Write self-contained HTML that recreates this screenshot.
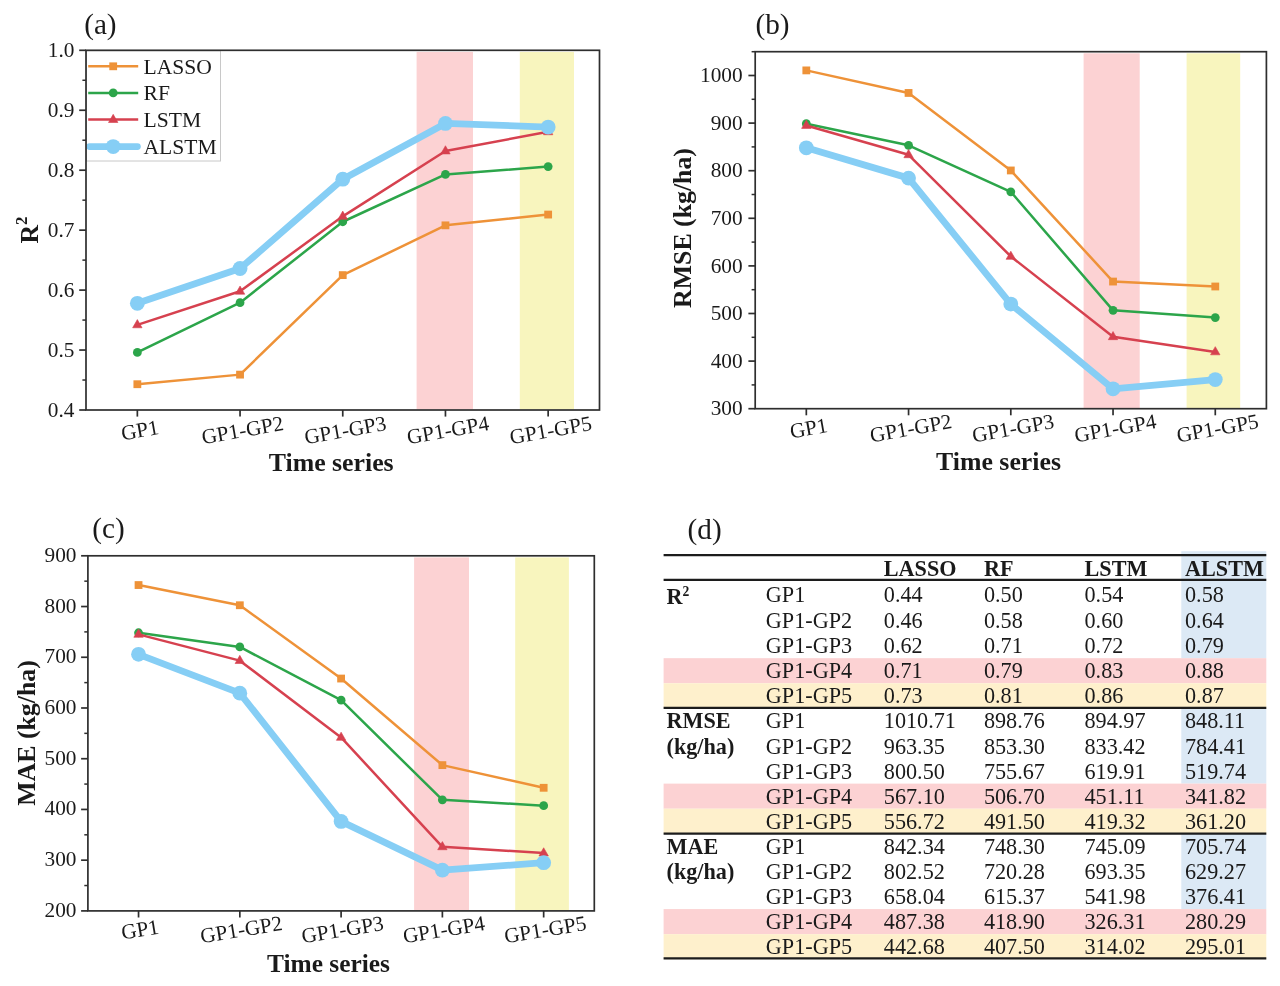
<!DOCTYPE html>
<html lang="en"><head><meta charset="utf-8"><title>Model comparison: LASSO, RF, LSTM, ALSTM</title>
<style>
html,body{margin:0;padding:0;background:#fff;}
body{width:1280px;height:986px;overflow:hidden;}
svg{display:block;}
text{font-family:"Liberation Serif","Times New Roman",serif;fill:#1a1a1a;}
.tk{font-size:21.3px;}
.lg{font-size:21.6px;}
.ttl{font-size:25.8px;font-weight:bold;}
.pl{font-size:29.2px;}
.td{font-size:22.2px;}
.th{font-size:22.2px;font-weight:bold;}
</style></head><body>
<svg width="1280" height="986" viewBox="0 0 1280 986">
<rect x="0" y="0" width="1280" height="986" fill="#ffffff"/>
<g id="panel-a">
<text x="84.2" y="33.8" class="pl">(a)</text>
<rect x="416.6" y="51.9" width="56.4" height="357.5" fill="#FCD2D3"/>
<rect x="519.8" y="51.9" width="54.2" height="357.5" fill="#F8F5BE"/>
<polyline points="137.35,384.22 240.05,374.63 342.75,275.11 445.45,225.35 548.15,214.56" fill="none" stroke="#EE9238" stroke-width="2.5" stroke-linejoin="round" stroke-linecap="round"/>
<rect x="133.45" y="380.32" width="7.8" height="7.8" fill="#EE9238"/>
<rect x="236.15" y="370.73" width="7.8" height="7.8" fill="#EE9238"/>
<rect x="338.85" y="271.21" width="7.8" height="7.8" fill="#EE9238"/>
<rect x="441.55" y="221.45" width="7.8" height="7.8" fill="#EE9238"/>
<rect x="544.25" y="210.66" width="7.8" height="7.8" fill="#EE9238"/>
<polyline points="137.35,352.45 240.05,302.69 342.75,221.76 445.45,174.4 548.15,166.6" fill="none" stroke="#2CA54A" stroke-width="2.5" stroke-linejoin="round" stroke-linecap="round"/>
<circle cx="137.35" cy="352.45" r="4.4" fill="#2CA54A"/>
<circle cx="240.05" cy="302.69" r="4.4" fill="#2CA54A"/>
<circle cx="342.75" cy="221.76" r="4.4" fill="#2CA54A"/>
<circle cx="445.45" cy="174.4" r="4.4" fill="#2CA54A"/>
<circle cx="548.15" cy="166.6" r="4.4" fill="#2CA54A"/>
<polyline points="137.35,324.87 240.05,291.3 342.75,216.36 445.45,151.02 548.15,131.83" fill="none" stroke="#D6414F" stroke-width="2.5" stroke-linejoin="round" stroke-linecap="round"/>
<polygon points="137.35,319.6 142.05,327.77 132.65,327.77" fill="#D6414F" stroke="#D6414F" stroke-width="0.6" stroke-linejoin="round"/>
<polygon points="240.05,286.02 244.75,294.2 235.35,294.2" fill="#D6414F" stroke="#D6414F" stroke-width="0.6" stroke-linejoin="round"/>
<polygon points="342.75,211.09 347.45,219.26 338.05,219.26" fill="#D6414F" stroke="#D6414F" stroke-width="0.6" stroke-linejoin="round"/>
<polygon points="445.45,145.74 450.15,153.92 440.75,153.92" fill="#D6414F" stroke="#D6414F" stroke-width="0.6" stroke-linejoin="round"/>
<polygon points="548.15,126.56 552.85,134.74 543.45,134.74" fill="#D6414F" stroke="#D6414F" stroke-width="0.6" stroke-linejoin="round"/>
<polyline points="137.35,303.29 240.05,268.52 342.75,179.19 445.45,123.44 548.15,127.04" fill="none" stroke="#86CEF5" stroke-width="6.8" stroke-linejoin="round" stroke-linecap="round"/>
<circle cx="137.35" cy="303.29" r="7.4" fill="#86CEF5"/>
<circle cx="240.05" cy="268.52" r="7.4" fill="#86CEF5"/>
<circle cx="342.75" cy="179.19" r="7.4" fill="#86CEF5"/>
<circle cx="445.45" cy="123.44" r="7.4" fill="#86CEF5"/>
<circle cx="548.15" cy="127.04" r="7.4" fill="#86CEF5"/>
<rect x="86.5" y="50.8" width="134" height="110.2" fill="#fff" stroke="#c8c8c8" stroke-width="1"/>
<line x1="88.2" y1="66.3" x2="138.2" y2="66.3" stroke="#EE9238" stroke-width="2.5" stroke-linecap="butt"/>
<rect x="109.3" y="62.4" width="7.8" height="7.8" fill="#EE9238"/>
<text x="143.5" y="73.5" class="lg">LASSO</text>
<line x1="88.2" y1="92.9" x2="138.2" y2="92.9" stroke="#2CA54A" stroke-width="2.5" stroke-linecap="butt"/>
<circle cx="113.2" cy="92.9" r="4.4" fill="#2CA54A"/>
<text x="143.5" y="100.1" class="lg">RF</text>
<line x1="88.2" y1="119.6" x2="138.2" y2="119.6" stroke="#D6414F" stroke-width="2.5" stroke-linecap="butt"/>
<polygon points="113.2,114.33 117.9,122.5 108.5,122.5" fill="#D6414F" stroke="#D6414F" stroke-width="0.6" stroke-linejoin="round"/>
<text x="143.5" y="126.8" class="lg">LSTM</text>
<line x1="89.6" y1="146.6" x2="137.4" y2="146.6" stroke="#86CEF5" stroke-width="6.8" stroke-linecap="round"/>
<circle cx="113.2" cy="146.6" r="7.4" fill="#86CEF5"/>
<text x="143.5" y="153.8" class="lg">ALSTM</text>
<rect x="86" y="50.3" width="513.5" height="359.7" fill="none" stroke="#2e2e2e" stroke-width="1.7"/>
<line x1="79.2" y1="410" x2="86" y2="410" stroke="#2e2e2e" stroke-width="1.7"/>
<text x="74.4" y="416.7" text-anchor="end" class="tk">0.4</text>
<line x1="82.4" y1="380.03" x2="86" y2="380.03" stroke="#2e2e2e" stroke-width="1.5"/>
<line x1="79.2" y1="350.05" x2="86" y2="350.05" stroke="#2e2e2e" stroke-width="1.7"/>
<text x="74.4" y="356.75" text-anchor="end" class="tk">0.5</text>
<line x1="82.4" y1="320.07" x2="86" y2="320.07" stroke="#2e2e2e" stroke-width="1.5"/>
<line x1="79.2" y1="290.1" x2="86" y2="290.1" stroke="#2e2e2e" stroke-width="1.7"/>
<text x="74.4" y="296.8" text-anchor="end" class="tk">0.6</text>
<line x1="82.4" y1="260.12" x2="86" y2="260.12" stroke="#2e2e2e" stroke-width="1.5"/>
<line x1="79.2" y1="230.15" x2="86" y2="230.15" stroke="#2e2e2e" stroke-width="1.7"/>
<text x="74.4" y="236.85" text-anchor="end" class="tk">0.7</text>
<line x1="82.4" y1="200.17" x2="86" y2="200.17" stroke="#2e2e2e" stroke-width="1.5"/>
<line x1="79.2" y1="170.2" x2="86" y2="170.2" stroke="#2e2e2e" stroke-width="1.7"/>
<text x="74.4" y="176.9" text-anchor="end" class="tk">0.8</text>
<line x1="82.4" y1="140.22" x2="86" y2="140.22" stroke="#2e2e2e" stroke-width="1.5"/>
<line x1="79.2" y1="110.25" x2="86" y2="110.25" stroke="#2e2e2e" stroke-width="1.7"/>
<text x="74.4" y="116.95" text-anchor="end" class="tk">0.9</text>
<line x1="82.4" y1="80.27" x2="86" y2="80.27" stroke="#2e2e2e" stroke-width="1.5"/>
<line x1="79.2" y1="50.3" x2="86" y2="50.3" stroke="#2e2e2e" stroke-width="1.7"/>
<text x="74.4" y="57" text-anchor="end" class="tk">1.0</text>
<line x1="137.35" y1="410" x2="137.35" y2="416.6" stroke="#2e2e2e" stroke-width="1.7"/>
<text transform="translate(139.85,430.4) rotate(-10)" x="0" y="6.8" text-anchor="middle" class="tk">GP1</text>
<line x1="240.05" y1="410" x2="240.05" y2="416.6" stroke="#2e2e2e" stroke-width="1.7"/>
<text transform="translate(242.55,430.4) rotate(-10)" x="0" y="6.8" text-anchor="middle" class="tk">GP1-GP2</text>
<line x1="342.75" y1="410" x2="342.75" y2="416.6" stroke="#2e2e2e" stroke-width="1.7"/>
<text transform="translate(345.25,430.4) rotate(-10)" x="0" y="6.8" text-anchor="middle" class="tk">GP1-GP3</text>
<line x1="445.45" y1="410" x2="445.45" y2="416.6" stroke="#2e2e2e" stroke-width="1.7"/>
<text transform="translate(447.95,430.4) rotate(-10)" x="0" y="6.8" text-anchor="middle" class="tk">GP1-GP4</text>
<line x1="548.15" y1="410" x2="548.15" y2="416.6" stroke="#2e2e2e" stroke-width="1.7"/>
<text transform="translate(550.65,430.4) rotate(-10)" x="0" y="6.8" text-anchor="middle" class="tk">GP1-GP5</text>
<text x="331.2" y="471.2" text-anchor="middle" class="ttl">Time series</text>
<text transform="translate(37.5,230.1) rotate(-90)" x="0" y="0" text-anchor="middle" class="ttl">R<tspan dy="-11" font-size="16.8px">2</tspan></text>
</g>
<g id="panel-b">
<text x="755.5" y="33.8" class="pl">(b)</text>
<rect x="1083.6" y="53.3" width="56.1" height="354.8" fill="#FCD2D3"/>
<rect x="1186.6" y="53.3" width="53.6" height="354.8" fill="#F8F5BE"/>
<polyline points="806.32,70.4 908.56,92.95 1010.8,170.46 1113.04,281.56 1215.28,286.5" fill="none" stroke="#EE9238" stroke-width="2.5" stroke-linejoin="round" stroke-linecap="round"/>
<rect x="802.42" y="66.5" width="7.8" height="7.8" fill="#EE9238"/>
<rect x="904.66" y="89.05" width="7.8" height="7.8" fill="#EE9238"/>
<rect x="1006.9" y="166.56" width="7.8" height="7.8" fill="#EE9238"/>
<rect x="1109.14" y="277.66" width="7.8" height="7.8" fill="#EE9238"/>
<rect x="1211.38" y="282.6" width="7.8" height="7.8" fill="#EE9238"/>
<polyline points="806.32,123.69 908.56,145.33 1010.8,191.8 1113.04,310.31 1215.28,317.55" fill="none" stroke="#2CA54A" stroke-width="2.5" stroke-linejoin="round" stroke-linecap="round"/>
<circle cx="806.32" cy="123.69" r="4.4" fill="#2CA54A"/>
<circle cx="908.56" cy="145.33" r="4.4" fill="#2CA54A"/>
<circle cx="1010.8" cy="191.8" r="4.4" fill="#2CA54A"/>
<circle cx="1113.04" cy="310.31" r="4.4" fill="#2CA54A"/>
<circle cx="1215.28" cy="317.55" r="4.4" fill="#2CA54A"/>
<polyline points="806.32,125.49 908.56,154.79 1010.8,256.42 1113.04,336.77 1215.28,351.9" fill="none" stroke="#D6414F" stroke-width="2.5" stroke-linejoin="round" stroke-linecap="round"/>
<polygon points="806.32,120.22 811.02,128.4 801.62,128.4" fill="#D6414F" stroke="#D6414F" stroke-width="0.6" stroke-linejoin="round"/>
<polygon points="908.56,149.52 913.26,157.7 903.86,157.7" fill="#D6414F" stroke="#D6414F" stroke-width="0.6" stroke-linejoin="round"/>
<polygon points="1010.8,251.15 1015.5,259.33 1006.1,259.33" fill="#D6414F" stroke="#D6414F" stroke-width="0.6" stroke-linejoin="round"/>
<polygon points="1113.04,331.5 1117.74,339.67 1108.34,339.67" fill="#D6414F" stroke="#D6414F" stroke-width="0.6" stroke-linejoin="round"/>
<polygon points="1215.28,346.63 1219.98,354.81 1210.58,354.81" fill="#D6414F" stroke="#D6414F" stroke-width="0.6" stroke-linejoin="round"/>
<polyline points="806.32,147.8 908.56,178.12 1010.8,304.1 1113.04,388.79 1215.28,379.57" fill="none" stroke="#86CEF5" stroke-width="6.8" stroke-linejoin="round" stroke-linecap="round"/>
<circle cx="806.32" cy="147.8" r="7.4" fill="#86CEF5"/>
<circle cx="908.56" cy="178.12" r="7.4" fill="#86CEF5"/>
<circle cx="1010.8" cy="304.1" r="7.4" fill="#86CEF5"/>
<circle cx="1113.04" cy="388.79" r="7.4" fill="#86CEF5"/>
<circle cx="1215.28" cy="379.57" r="7.4" fill="#86CEF5"/>
<rect x="755.2" y="51.7" width="511.2" height="357" fill="none" stroke="#2e2e2e" stroke-width="1.7"/>
<line x1="748.4" y1="408.7" x2="755.2" y2="408.7" stroke="#2e2e2e" stroke-width="1.7"/>
<text x="742.6" y="415.4" text-anchor="end" class="tk">300</text>
<line x1="751.6" y1="384.9" x2="755.2" y2="384.9" stroke="#2e2e2e" stroke-width="1.5"/>
<line x1="748.4" y1="361.1" x2="755.2" y2="361.1" stroke="#2e2e2e" stroke-width="1.7"/>
<text x="742.6" y="367.8" text-anchor="end" class="tk">400</text>
<line x1="751.6" y1="337.3" x2="755.2" y2="337.3" stroke="#2e2e2e" stroke-width="1.5"/>
<line x1="748.4" y1="313.5" x2="755.2" y2="313.5" stroke="#2e2e2e" stroke-width="1.7"/>
<text x="742.6" y="320.2" text-anchor="end" class="tk">500</text>
<line x1="751.6" y1="289.7" x2="755.2" y2="289.7" stroke="#2e2e2e" stroke-width="1.5"/>
<line x1="748.4" y1="265.9" x2="755.2" y2="265.9" stroke="#2e2e2e" stroke-width="1.7"/>
<text x="742.6" y="272.6" text-anchor="end" class="tk">600</text>
<line x1="751.6" y1="242.1" x2="755.2" y2="242.1" stroke="#2e2e2e" stroke-width="1.5"/>
<line x1="748.4" y1="218.3" x2="755.2" y2="218.3" stroke="#2e2e2e" stroke-width="1.7"/>
<text x="742.6" y="225" text-anchor="end" class="tk">700</text>
<line x1="751.6" y1="194.5" x2="755.2" y2="194.5" stroke="#2e2e2e" stroke-width="1.5"/>
<line x1="748.4" y1="170.7" x2="755.2" y2="170.7" stroke="#2e2e2e" stroke-width="1.7"/>
<text x="742.6" y="177.4" text-anchor="end" class="tk">800</text>
<line x1="751.6" y1="146.9" x2="755.2" y2="146.9" stroke="#2e2e2e" stroke-width="1.5"/>
<line x1="748.4" y1="123.1" x2="755.2" y2="123.1" stroke="#2e2e2e" stroke-width="1.7"/>
<text x="742.6" y="129.8" text-anchor="end" class="tk">900</text>
<line x1="751.6" y1="99.3" x2="755.2" y2="99.3" stroke="#2e2e2e" stroke-width="1.5"/>
<line x1="748.4" y1="75.5" x2="755.2" y2="75.5" stroke="#2e2e2e" stroke-width="1.7"/>
<text x="742.6" y="82.2" text-anchor="end" class="tk">1000</text>
<line x1="751.6" y1="51.7" x2="755.2" y2="51.7" stroke="#2e2e2e" stroke-width="1.5"/>
<line x1="806.32" y1="408.7" x2="806.32" y2="415.3" stroke="#2e2e2e" stroke-width="1.7"/>
<text transform="translate(808.62,428.5) rotate(-10)" x="0" y="6.8" text-anchor="middle" class="tk">GP1</text>
<line x1="908.56" y1="408.7" x2="908.56" y2="415.3" stroke="#2e2e2e" stroke-width="1.7"/>
<text transform="translate(910.86,428.5) rotate(-10)" x="0" y="6.8" text-anchor="middle" class="tk">GP1-GP2</text>
<line x1="1010.8" y1="408.7" x2="1010.8" y2="415.3" stroke="#2e2e2e" stroke-width="1.7"/>
<text transform="translate(1013.1,428.5) rotate(-10)" x="0" y="6.8" text-anchor="middle" class="tk">GP1-GP3</text>
<line x1="1113.04" y1="408.7" x2="1113.04" y2="415.3" stroke="#2e2e2e" stroke-width="1.7"/>
<text transform="translate(1115.34,428.5) rotate(-10)" x="0" y="6.8" text-anchor="middle" class="tk">GP1-GP4</text>
<line x1="1215.28" y1="408.7" x2="1215.28" y2="415.3" stroke="#2e2e2e" stroke-width="1.7"/>
<text transform="translate(1217.58,428.5) rotate(-10)" x="0" y="6.8" text-anchor="middle" class="tk">GP1-GP5</text>
<text x="998.5" y="470" text-anchor="middle" class="ttl">Time series</text>
<text transform="translate(691.3,228) rotate(-90)" x="0" y="0" text-anchor="middle" class="ttl">RMSE (kg/ha)</text>
</g>
<g id="panel-c">
<text x="92.3" y="538.0" class="pl">(c)</text>
<rect x="414.1" y="557.4" width="54.9" height="352.9" fill="#FCD2D3"/>
<rect x="515.2" y="557.4" width="53.7" height="352.9" fill="#F8F5BE"/>
<polyline points="138.54,585.05 239.82,605.25 341.1,678.54 442.38,765.12 543.66,787.79" fill="none" stroke="#EE9238" stroke-width="2.5" stroke-linejoin="round" stroke-linecap="round"/>
<rect x="134.64" y="581.15" width="7.8" height="7.8" fill="#EE9238"/>
<rect x="235.92" y="601.35" width="7.8" height="7.8" fill="#EE9238"/>
<rect x="337.2" y="674.64" width="7.8" height="7.8" fill="#EE9238"/>
<rect x="438.48" y="761.22" width="7.8" height="7.8" fill="#EE9238"/>
<rect x="539.76" y="783.89" width="7.8" height="7.8" fill="#EE9238"/>
<polyline points="138.54,632.76 239.82,646.97 341.1,700.19 442.38,799.86 543.66,805.64" fill="none" stroke="#2CA54A" stroke-width="2.5" stroke-linejoin="round" stroke-linecap="round"/>
<circle cx="138.54" cy="632.76" r="4.4" fill="#2CA54A"/>
<circle cx="239.82" cy="646.97" r="4.4" fill="#2CA54A"/>
<circle cx="341.1" cy="700.19" r="4.4" fill="#2CA54A"/>
<circle cx="442.38" cy="799.86" r="4.4" fill="#2CA54A"/>
<circle cx="543.66" cy="805.64" r="4.4" fill="#2CA54A"/>
<polyline points="138.54,634.38 239.82,660.63 341.1,737.42 442.38,846.82 543.66,853.06" fill="none" stroke="#D6414F" stroke-width="2.5" stroke-linejoin="round" stroke-linecap="round"/>
<polygon points="138.54,629.11 143.24,637.29 133.84,637.29" fill="#D6414F" stroke="#D6414F" stroke-width="0.6" stroke-linejoin="round"/>
<polygon points="239.82,655.36 244.52,663.53 235.12,663.53" fill="#D6414F" stroke="#D6414F" stroke-width="0.6" stroke-linejoin="round"/>
<polygon points="341.1,732.14 345.8,740.32 336.4,740.32" fill="#D6414F" stroke="#D6414F" stroke-width="0.6" stroke-linejoin="round"/>
<polygon points="442.38,841.55 447.08,849.73 437.68,849.73" fill="#D6414F" stroke="#D6414F" stroke-width="0.6" stroke-linejoin="round"/>
<polygon points="543.66,847.78 548.36,855.96 538.96,855.96" fill="#D6414F" stroke="#D6414F" stroke-width="0.6" stroke-linejoin="round"/>
<polyline points="138.54,654.35 239.82,693.14 341.1,821.41 442.38,870.17 543.66,862.7" fill="none" stroke="#86CEF5" stroke-width="6.8" stroke-linejoin="round" stroke-linecap="round"/>
<circle cx="138.54" cy="654.35" r="7.4" fill="#86CEF5"/>
<circle cx="239.82" cy="693.14" r="7.4" fill="#86CEF5"/>
<circle cx="341.1" cy="821.41" r="7.4" fill="#86CEF5"/>
<circle cx="442.38" cy="870.17" r="7.4" fill="#86CEF5"/>
<circle cx="543.66" cy="862.7" r="7.4" fill="#86CEF5"/>
<rect x="87.9" y="555.8" width="506.4" height="355.1" fill="none" stroke="#2e2e2e" stroke-width="1.7"/>
<line x1="81.1" y1="910.9" x2="87.9" y2="910.9" stroke="#2e2e2e" stroke-width="1.7"/>
<text x="76.5" y="916.9" text-anchor="end" class="tk">200</text>
<line x1="84.3" y1="885.54" x2="87.9" y2="885.54" stroke="#2e2e2e" stroke-width="1.5"/>
<line x1="81.1" y1="860.17" x2="87.9" y2="860.17" stroke="#2e2e2e" stroke-width="1.7"/>
<text x="76.5" y="866.17" text-anchor="end" class="tk">300</text>
<line x1="84.3" y1="834.81" x2="87.9" y2="834.81" stroke="#2e2e2e" stroke-width="1.5"/>
<line x1="81.1" y1="809.44" x2="87.9" y2="809.44" stroke="#2e2e2e" stroke-width="1.7"/>
<text x="76.5" y="815.44" text-anchor="end" class="tk">400</text>
<line x1="84.3" y1="784.08" x2="87.9" y2="784.08" stroke="#2e2e2e" stroke-width="1.5"/>
<line x1="81.1" y1="758.71" x2="87.9" y2="758.71" stroke="#2e2e2e" stroke-width="1.7"/>
<text x="76.5" y="764.71" text-anchor="end" class="tk">500</text>
<line x1="84.3" y1="733.35" x2="87.9" y2="733.35" stroke="#2e2e2e" stroke-width="1.5"/>
<line x1="81.1" y1="707.99" x2="87.9" y2="707.99" stroke="#2e2e2e" stroke-width="1.7"/>
<text x="76.5" y="713.99" text-anchor="end" class="tk">600</text>
<line x1="84.3" y1="682.62" x2="87.9" y2="682.62" stroke="#2e2e2e" stroke-width="1.5"/>
<line x1="81.1" y1="657.26" x2="87.9" y2="657.26" stroke="#2e2e2e" stroke-width="1.7"/>
<text x="76.5" y="663.26" text-anchor="end" class="tk">700</text>
<line x1="84.3" y1="631.89" x2="87.9" y2="631.89" stroke="#2e2e2e" stroke-width="1.5"/>
<line x1="81.1" y1="606.53" x2="87.9" y2="606.53" stroke="#2e2e2e" stroke-width="1.7"/>
<text x="76.5" y="612.53" text-anchor="end" class="tk">800</text>
<line x1="84.3" y1="581.16" x2="87.9" y2="581.16" stroke="#2e2e2e" stroke-width="1.5"/>
<line x1="81.1" y1="555.8" x2="87.9" y2="555.8" stroke="#2e2e2e" stroke-width="1.7"/>
<text x="76.5" y="561.8" text-anchor="end" class="tk">900</text>
<line x1="138.54" y1="910.9" x2="138.54" y2="917.5" stroke="#2e2e2e" stroke-width="1.7"/>
<text transform="translate(140.04,929.8) rotate(-9.4)" x="0" y="6.8" text-anchor="middle" class="tk">GP1</text>
<line x1="239.82" y1="910.9" x2="239.82" y2="917.5" stroke="#2e2e2e" stroke-width="1.7"/>
<text transform="translate(241.32,929.8) rotate(-9.4)" x="0" y="6.8" text-anchor="middle" class="tk">GP1-GP2</text>
<line x1="341.1" y1="910.9" x2="341.1" y2="917.5" stroke="#2e2e2e" stroke-width="1.7"/>
<text transform="translate(342.6,929.8) rotate(-9.4)" x="0" y="6.8" text-anchor="middle" class="tk">GP1-GP3</text>
<line x1="442.38" y1="910.9" x2="442.38" y2="917.5" stroke="#2e2e2e" stroke-width="1.7"/>
<text transform="translate(443.88,929.8) rotate(-9.4)" x="0" y="6.8" text-anchor="middle" class="tk">GP1-GP4</text>
<line x1="543.66" y1="910.9" x2="543.66" y2="917.5" stroke="#2e2e2e" stroke-width="1.7"/>
<text transform="translate(545.16,929.8) rotate(-9.4)" x="0" y="6.8" text-anchor="middle" class="tk">GP1-GP5</text>
<text x="328.5" y="972.2" text-anchor="middle" class="ttl" style="font-size:25.4px">Time series</text>
<text transform="translate(34.6,733) rotate(-90)" x="0" y="0" text-anchor="middle" class="ttl">MAE (kg/ha)</text>
</g>
<g id="panel-d">
<text x="687.6" y="538.6" class="pl">(d)</text>
<rect x="1181.3" y="551.2" width="85" height="106.97" fill="#DCE9F5"/>
<rect x="1181.3" y="708.35" width="85" height="75.27" fill="#DCE9F5"/>
<rect x="1181.3" y="833.8" width="85" height="75.27" fill="#DCE9F5"/>
<rect x="663.6" y="658.17" width="602.7" height="25.09" fill="#FCD2D3"/>
<rect x="663.6" y="683.26" width="602.7" height="25.09" fill="#FEF0CC"/>
<rect x="663.6" y="783.62" width="602.7" height="25.09" fill="#FCD2D3"/>
<rect x="663.6" y="808.71" width="602.7" height="25.09" fill="#FEF0CC"/>
<rect x="663.6" y="909.07" width="602.7" height="25.09" fill="#FCD2D3"/>
<rect x="663.6" y="934.16" width="602.7" height="25.09" fill="#FEF0CC"/>
<line x1="663.6" y1="555.2" x2="1266.3" y2="555.2" stroke="#1c1c1c" stroke-width="2.3"/>
<line x1="663.6" y1="579.8" x2="1266.3" y2="579.8" stroke="#1c1c1c" stroke-width="2.2"/>
<line x1="663.6" y1="707.8" x2="1266.3" y2="707.8" stroke="#1c1c1c" stroke-width="2.2"/>
<line x1="663.6" y1="833.6" x2="1266.3" y2="833.6" stroke="#1c1c1c" stroke-width="2.2"/>
<line x1="663.6" y1="958.3" x2="1266.3" y2="958.3" stroke="#1c1c1c" stroke-width="2.3"/>
<text x="883.8" y="575.6" class="th">LASSO</text>
<text x="983.9" y="575.6" class="th">RF</text>
<text x="1084.5" y="575.6" class="th">LSTM</text>
<text x="1185.0" y="575.6" class="th">ALSTM</text>
<text x="765.8" y="601.9" class="td">GP1</text>
<text x="883.8" y="601.9" class="td">0.44</text>
<text x="983.9" y="601.9" class="td">0.50</text>
<text x="1084.5" y="601.9" class="td">0.54</text>
<text x="1185.0" y="601.9" class="td">0.58</text>
<text x="765.8" y="627.8" class="td">GP1-GP2</text>
<text x="883.8" y="627.8" class="td">0.46</text>
<text x="983.9" y="627.8" class="td">0.58</text>
<text x="1084.5" y="627.8" class="td">0.60</text>
<text x="1185.0" y="627.8" class="td">0.64</text>
<text x="765.8" y="653" class="td">GP1-GP3</text>
<text x="883.8" y="653" class="td">0.62</text>
<text x="983.9" y="653" class="td">0.71</text>
<text x="1084.5" y="653" class="td">0.72</text>
<text x="1185.0" y="653" class="td">0.79</text>
<text x="765.8" y="678.1" class="td">GP1-GP4</text>
<text x="883.8" y="678.1" class="td">0.71</text>
<text x="983.9" y="678.1" class="td">0.79</text>
<text x="1084.5" y="678.1" class="td">0.83</text>
<text x="1185.0" y="678.1" class="td">0.88</text>
<text x="765.8" y="703.2" class="td">GP1-GP5</text>
<text x="883.8" y="703.2" class="td">0.73</text>
<text x="983.9" y="703.2" class="td">0.81</text>
<text x="1084.5" y="703.2" class="td">0.86</text>
<text x="1185.0" y="703.2" class="td">0.87</text>
<text x="765.8" y="728.3" class="td">GP1</text>
<text x="883.8" y="728.3" class="td">1010.71</text>
<text x="983.9" y="728.3" class="td">898.76</text>
<text x="1084.5" y="728.3" class="td">894.97</text>
<text x="1185.0" y="728.3" class="td">848.11</text>
<text x="765.8" y="753.5" class="td">GP1-GP2</text>
<text x="883.8" y="753.5" class="td">963.35</text>
<text x="983.9" y="753.5" class="td">853.30</text>
<text x="1084.5" y="753.5" class="td">833.42</text>
<text x="1185.0" y="753.5" class="td">784.41</text>
<text x="765.8" y="778.6" class="td">GP1-GP3</text>
<text x="883.8" y="778.6" class="td">800.50</text>
<text x="983.9" y="778.6" class="td">755.67</text>
<text x="1084.5" y="778.6" class="td">619.91</text>
<text x="1185.0" y="778.6" class="td">519.74</text>
<text x="765.8" y="803.6" class="td">GP1-GP4</text>
<text x="883.8" y="803.6" class="td">567.10</text>
<text x="983.9" y="803.6" class="td">506.70</text>
<text x="1084.5" y="803.6" class="td">451.11</text>
<text x="1185.0" y="803.6" class="td">341.82</text>
<text x="765.8" y="828.7" class="td">GP1-GP5</text>
<text x="883.8" y="828.7" class="td">556.72</text>
<text x="983.9" y="828.7" class="td">491.50</text>
<text x="1084.5" y="828.7" class="td">419.32</text>
<text x="1185.0" y="828.7" class="td">361.20</text>
<text x="765.8" y="853.7" class="td">GP1</text>
<text x="883.8" y="853.7" class="td">842.34</text>
<text x="983.9" y="853.7" class="td">748.30</text>
<text x="1084.5" y="853.7" class="td">745.09</text>
<text x="1185.0" y="853.7" class="td">705.74</text>
<text x="765.8" y="878.7" class="td">GP1-GP2</text>
<text x="883.8" y="878.7" class="td">802.52</text>
<text x="983.9" y="878.7" class="td">720.28</text>
<text x="1084.5" y="878.7" class="td">693.35</text>
<text x="1185.0" y="878.7" class="td">629.27</text>
<text x="765.8" y="903.7" class="td">GP1-GP3</text>
<text x="883.8" y="903.7" class="td">658.04</text>
<text x="983.9" y="903.7" class="td">615.37</text>
<text x="1084.5" y="903.7" class="td">541.98</text>
<text x="1185.0" y="903.7" class="td">376.41</text>
<text x="765.8" y="928.7" class="td">GP1-GP4</text>
<text x="883.8" y="928.7" class="td">487.38</text>
<text x="983.9" y="928.7" class="td">418.90</text>
<text x="1084.5" y="928.7" class="td">326.31</text>
<text x="1185.0" y="928.7" class="td">280.29</text>
<text x="765.8" y="953.7" class="td">GP1-GP5</text>
<text x="883.8" y="953.7" class="td">442.68</text>
<text x="983.9" y="953.7" class="td">407.50</text>
<text x="1084.5" y="953.7" class="td">314.02</text>
<text x="1185.0" y="953.7" class="td">295.01</text>
<text x="666.5" y="604.3" class="th">R<tspan dy="-8.6" font-size="13.6px">2</tspan></text>
<text x="666.5" y="728.3" class="th">RMSE</text>
<text x="666.5" y="753.5" class="th">(kg/ha)</text>
<text x="666.5" y="853.7" class="th">MAE</text>
<text x="666.5" y="878.7" class="th">(kg/ha)</text>
</g>
</svg></body></html>
